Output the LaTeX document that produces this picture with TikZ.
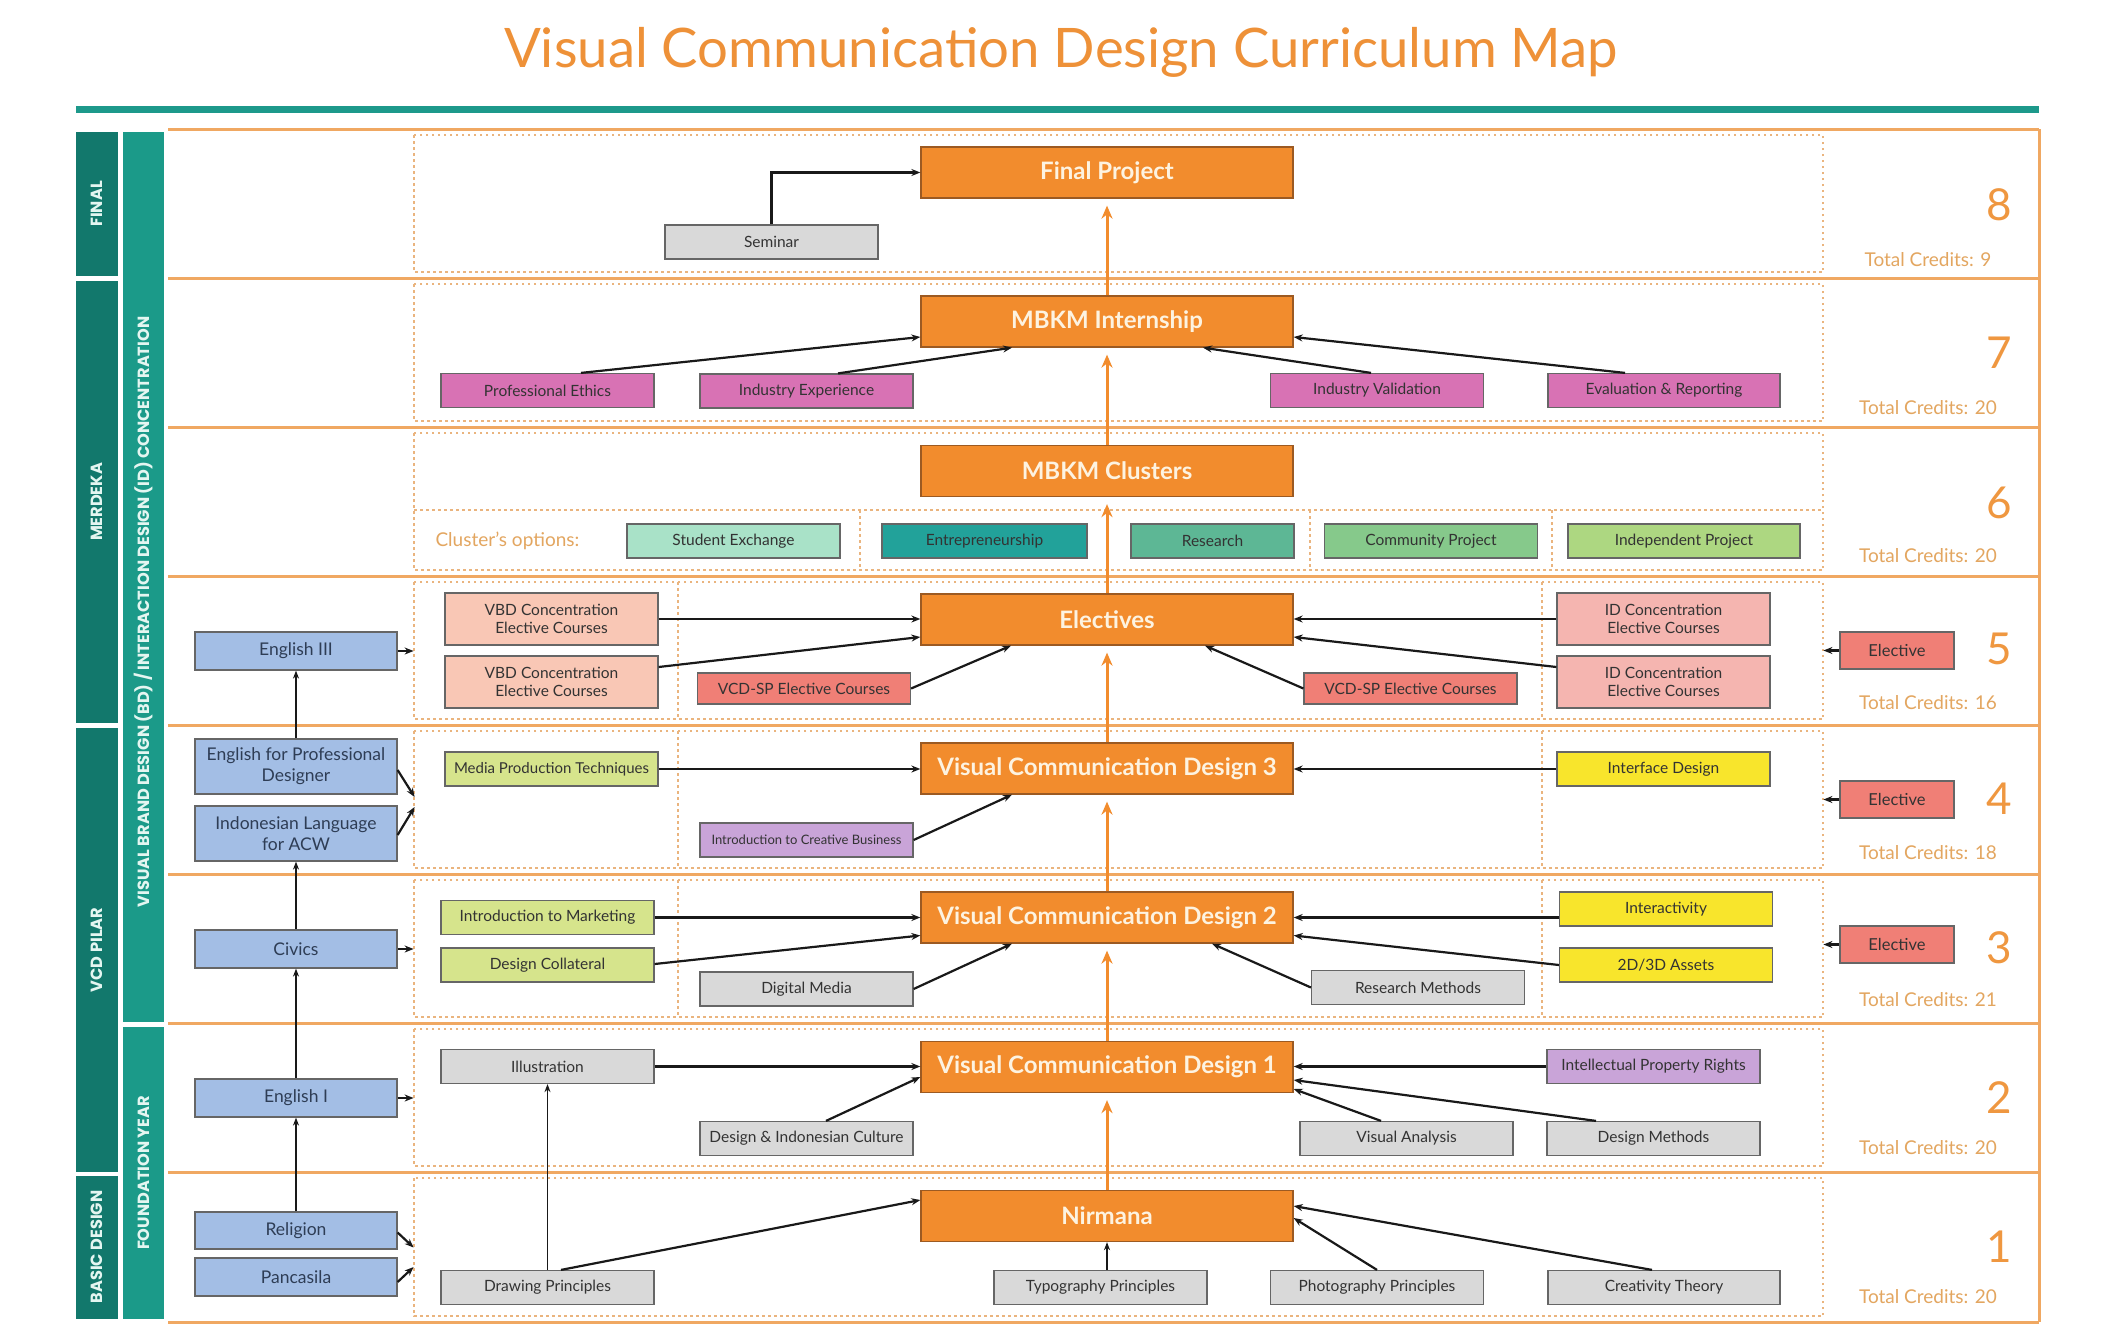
\documentclass[tikz,border=0pt]{standalone}
\usepackage{fontspec}
\setmainfont{Lato}
\newfontfamily\sidefont{Poppins}
\usetikzlibrary{arrows.meta,calc}
\newcommand\fsz[2]{\fontsize{#1}{#2}\selectfont}
\definecolor{orbox}{HTML}{F28C2D}
\definecolor{orborder}{HTML}{9C5A22}
\definecolor{orwhite}{HTML}{FDF3E1}
\definecolor{orline}{HTML}{F0A862}
\definecolor{ordot}{HTML}{EAB47E}
\definecolor{ortitle}{HTML}{EE9138}
\definecolor{ortxt}{HTML}{EF9740}
\definecolor{tctxt}{HTML}{E3A660}
\definecolor{tealbar}{HTML}{1D998B}
\definecolor{tealdark}{HTML}{12786C}
\definecolor{tealmid}{HTML}{1B9A89}
\definecolor{sidetext}{HTML}{E4F6F1}
\definecolor{gbox}{HTML}{D9D9D9}
\definecolor{bbox}{HTML}{A3BEE5}
\definecolor{bluetxt}{HTML}{2E3D55}
\definecolor{mbox}{HTML}{D872B4}
\definecolor{pbox}{HTML}{F9C7B5}
\definecolor{ibox}{HTML}{F5B5B0}
\definecolor{rbox}{HTML}{F07F76}
\definecolor{lgbox}{HTML}{D6E48C}
\definecolor{ybox}{HTML}{F8E52C}
\definecolor{lvbox}{HTML}{C9A4D8}
\definecolor{cla}{HTML}{A9E2C8}
\definecolor{clb}{HTML}{22A29A}
\definecolor{clc}{HTML}{5DB795}
\definecolor{cld}{HTML}{86C98B}
\definecolor{cle}{HTML}{ADD781}
\definecolor{boxtxt}{HTML}{333333}
\tikzset{
  sbox/.style={draw=black!60, line width=1.2pt, inner sep=2pt, align=center, text=boxtxt,
    font=\fsz{15.5}{18}, minimum width=213, minimum height=34},
  bluebox/.style={sbox, fill=bbox, minimum width=202, text=bluetxt, font=\fsz{17.5}{21}},
  elbox/.style={sbox, fill=rbox, minimum width=114, minimum height=37, font=\fsz{16.5}{19}},
  orgbox/.style={fill=orbox, draw=orborder, line width=1.3pt, minimum width=372, minimum height=51,
    font=\fsz{24}{27}\bfseries, text=orwhite, inner sep=0pt},
  arr/.style={draw=black!90, line width=2.2pt, -{Stealth[length=9pt,width=7pt]}},
  varr/.style={draw=black!90, line width=1.8pt, -{Stealth[length=8pt,width=6pt]}},
  oarr/.style={draw=orbox, line width=3pt, -{Stealth[length=13pt,width=11pt]}},
  solidl/.style={draw=orline, line width=3pt},
  dotl/.style={draw=ordot, line width=1.5pt, dash pattern=on 2.5pt off 3.5pt},
  sidetxt/.style={text=sidetext, font=\sidefont\bfseries\fsz{16.2}{18}, rotate=90},
  numst/.style={text=ortxt, font=\fsz{44}{48}},
  tcst/.style={text=tctxt, font=\fsz{19}{22}}
}
\begin{document}
\begin{tikzpicture}[x=1pt,y=-1pt]
\useasboundingbox (0,0) rectangle (2113,1333);
\fill[white] (0,0) rectangle (2113,1333);

% title
\node[font=\fsz{54.5}{60}, text=ortitle, anchor=base] (title) at (1061,67) {Visual Communication Design Curriculum Map};
\fill[tealbar] (76,106) rectangle (2039,113);

% sidebars
\fill[tealdark] (76,132) rectangle (118,276);
\fill[tealdark] (76,281) rectangle (118,723);
\fill[tealdark] (76,728) rectangle (118,1172);
\fill[tealdark] (76,1176) rectangle (118,1319);
\fill[tealmid] (123,132) rectangle (164,1022);
\fill[tealmid] (123,1027) rectangle (164,1319);
\node[sidetxt] (sfinal) at (97,204) {FINAL};
\node[sidetxt] (smerdeka) at (97,502) {MERDEKA};
\node[sidetxt] (spilar) at (97,950) {VCD PILAR};
\node[sidetxt] (sbasic) at (97,1247) {BASIC DESIGN};
\node[sidetxt] (sconc) at (143.5,612) {VISUAL BRAND DESIGN (BD) / INTERACTION DESIGN (ID) CONCENTRATION};
\node[sidetxt] (sfound) at (143.5,1173) {FOUNDATION YEAR};

% row frames
\foreach \t/\b in {129/278,278/427,427/576,576/725,725/874,874/1023,1023/1172,1172/1322}{
  \draw[dotl] (414,\t+6) rectangle (1823,\b-6);
}
\foreach \t in {129,278,427,576,725,874,1023,1172,1322}{
  \draw[solidl] (168,\t) -- (2039,\t);
}
\draw[solidl] (2039,129) -- (2039,1322);
\draw[dotl] (414,510) -- (1823,510);
\foreach \x in {860,1310,1552}{ \draw[dotl] (\x,510) -- (\x,570); }
\foreach \t in {576,725,874}{
  \draw[dotl] (678,\t+6) -- (678,\t+143);
  \draw[dotl] (1542,\t+6) -- (1542,\t+143);
}

% numbers and credits
\node[numst] (n8) at (1999,205) {8};
\node[numst] (n7) at (1999,353) {7};
\node[numst] (n6) at (1999,503) {6};
\node[numst] (n5) at (1999,649) {5};
\node[numst] (n4) at (1999,799) {4};
\node[numst] (n3) at (1999,948) {3};
\node[numst] (n2) at (1999,1098) {2};
\node[numst] (n1) at (1999,1247) {1};
\node[tcst] (t8) at (1928,260) {Total Credits: 9};
\node[tcst] (t7) at (1928,408) {Total Credits: 20};
\node[tcst] (t6) at (1928,556) {Total Credits: 20};
\node[tcst] (t5) at (1928,703) {Total Credits: 16};
\node[tcst] (t4) at (1928,853) {Total Credits: 18};
\node[tcst] (t3) at (1928,1000) {Total Credits: 21};
\node[tcst] (t2) at (1928,1148) {Total Credits: 20};
\node[tcst] (t1) at (1928,1297) {Total Credits: 20};

% Row 8
\node[orgbox] (final) at (1107,172.5) {Final Project};
\node[sbox, fill=gbox] (seminar) at (771.5,242) {Seminar};
% Row 7
\node[orgbox] (mbkm) at (1107,321.5) {MBKM Internship};
\node[sbox, fill=mbox] (pe) at (547.5,390.5) {Professional Ethics};
\node[sbox, fill=mbox] (ie) at (806.5,391) {Industry Experience};
\node[sbox, fill=mbox] (iv) at (1377,390.5) {Industry Validation};
\node[sbox, fill=mbox, minimum width=232] (er) at (1664,390.5) {Evaluation \& Reporting};
% Row 6
\node[orgbox] (clusters) at (1107,471) {MBKM Clusters};
\node[tcst, anchor=west] (copt) at (432,541) {Cluster's options:};
\node[sbox, fill=cla] (se) at (733.5,541) {Student Exchange};
\node[sbox, fill=clb, minimum width=205] (en) at (984.5,541) {Entrepreneurship};
\node[sbox, fill=clc, minimum width=163] (rs) at (1212.5,541) {Research};
\node[sbox, fill=cld] (cp) at (1431,541) {Community Project};
\node[sbox, fill=cle, minimum width=232] (ip) at (1684,541) {Independent Project};
% Row 5
\node[orgbox] (elect) at (1107,619.5) {Electives};
\node[bluebox, minimum height=38] (eng3) at (296,651) {English III};
\node[sbox, fill=pbox, minimum height=52] (vbd1) at (551.5,619) {VBD Concentration\\Elective Courses};
\node[sbox, fill=pbox, minimum height=52] (vbd2) at (551.5,682) {VBD Concentration\\Elective Courses};
\node[sbox, fill=rbox, minimum height=31] (spl) at (804,688.5) {VCD-SP Elective Courses};
\node[sbox, fill=ibox, minimum height=52] (id1) at (1663.5,619) {ID Concentration\\Elective Courses};
\node[sbox, fill=ibox, minimum height=52] (id2) at (1663.5,682) {ID Concentration\\Elective Courses};
\node[sbox, fill=rbox, minimum height=31] (spr) at (1410.5,688.5) {VCD-SP Elective Courses};
\node[elbox] (el5) at (1897,650.5) {Elective};
% Row 4
\node[orgbox] (vcd3) at (1107,768.5) {Visual Communication Design 3};
\node[bluebox, minimum height=55] (efpd) at (296,766.5) {English for Professional\\Designer};
\node[bluebox, minimum height=55] (indo) at (296,833.5) {Indonesian Language\\for ACW};
\node[sbox, fill=lgbox, font=\fsz{15}{18}] (mpt) at (551.5,769) {Media Production Techniques};
\node[sbox, fill=lvbox, font=\fsz{13}{15}] (icb) at (806.5,840) {Introduction to Creative Business};
\node[sbox, fill=ybox] (ifd) at (1663.5,769) {Interface Design};
\node[elbox] (el4) at (1897,799.5) {Elective};
% Row 3
\node[orgbox] (vcd2) at (1107,917.5) {Visual Communication Design 2};
\node[bluebox, minimum height=38] (civ) at (296,949) {Civics};
\node[sbox, fill=lgbox] (itm) at (547.5,917.5) {Introduction to Marketing};
\node[sbox, fill=lgbox] (dcol) at (547.5,965) {Design Collateral};
\node[sbox, fill=gbox] (dm) at (806.5,989) {Digital Media};
\node[sbox, fill=ybox] (inter) at (1666,909) {Interactivity};
\node[sbox, fill=ybox] (d23) at (1666,965) {2D/3D Assets};
\node[sbox, fill=gbox] (rm) at (1418,987.5) {Research Methods};
\node[elbox] (el3) at (1897,944.5) {Elective};
% Row 2
\node[orgbox] (vcd1) at (1107,1067) {Visual Communication Design 1};
\node[bluebox, minimum height=38] (eng1) at (296,1098) {English I};
\node[sbox, fill=gbox] (ill) at (547.5,1066.5) {Illustration};
\node[sbox, fill=gbox] (dic) at (806.5,1138.5) {Design \& Indonesian Culture};
\node[sbox, fill=lvbox] (ipr) at (1653.5,1066.5) {Intellectual Property Rights};
\node[sbox, fill=gbox] (va) at (1406.5,1138.5) {Visual Analysis};
\node[sbox, fill=gbox] (dme) at (1653.5,1138.5) {Design Methods};
% Row 1
\node[orgbox] (nir) at (1107,1216) {Nirmana};
\node[bluebox, minimum height=37] (rel) at (296,1230.5) {Religion};
\node[bluebox, minimum height=38] (pan) at (296,1277) {Pancasila};
\node[sbox, fill=gbox] (dp) at (547.5,1287.5) {Drawing Principles};
\node[sbox, fill=gbox] (tp) at (1100.5,1287.5) {Typography Principles};
\node[sbox, fill=gbox] (pp) at (1377,1287.5) {Photography Principles};
\node[sbox, fill=gbox, minimum width=232] (ct) at (1664,1287.5) {Creativity Theory};

% orange spine
\draw[oarr] (mbkm.north) -- ($(final.south)+(0,7)$);
\draw[oarr] (clusters.north) -- ($(mbkm.south)+(0,7)$);
\draw[oarr] (elect.north) -- ($(clusters.south)+(0,7)$);
\draw[oarr] (vcd3.north) -- ($(elect.south)+(0,7)$);
\draw[oarr] (vcd2.north) -- ($(vcd3.south)+(0,7)$);
\draw[oarr] (vcd1.north) -- ($(vcd2.south)+(0,7)$);
\draw[oarr] (nir.north) -- ($(vcd1.south)+(0,7)$);

% row 8
\draw[arr] (seminar.north) |- (final.west);
% row 7
\draw[arr] ($(pe.north)+(33.5,0)$) -- ($(mbkm.west)+(0,15.5)$);
\draw[arr] ($(ie.north)+(31.5,0)$) -- ($(mbkm.south)+(-95,0)$);
\draw[arr] ($(iv.north)+(-6,0)$) -- ($(mbkm.south)+(96,0)$);
\draw[arr] ($(er.north)+(-39,0)$) -- ($(mbkm.east)+(0,15.5)$);
% row 5
\draw[arr] (eng3.east) -- ++(16,0);
\draw[arr] (vbd1.east) -- (vbd1.east -| elect.west);
\draw[arr] ($(vbd2.east)+(0,-15)$) -- ($(elect.west)+(0,17.5)$);
\draw[arr] (spl.east) -- ($(elect.south)+(-96,0)$);
\draw[arr] (id1.west) -- (id1.west -| elect.east);
\draw[arr] ($(id2.west)+(0,-15)$) -- ($(elect.east)+(0,17.5)$);
\draw[arr] (spr.west) -- ($(elect.south)+(98,0)$);
\draw[arr] (el5.west) -- ++(-16,0);
\draw[varr] (efpd.north) -- (eng3.south);
% row 4
\draw[arr] ($(efpd.east)+(0,3.5)$) -- ++(17,27);
\draw[arr] ($(indo.east)+(0,1.5)$) -- ++(17,-28);
\draw[arr] (mpt.east) -- (mpt.east -| vcd3.west);
\draw[arr] (icb.east) -- ($(vcd3.south)+(-95,0)$);
\draw[arr] (ifd.west) -- (ifd.west -| vcd3.east);
\draw[arr] (el4.west) -- ++(-16,0);
\draw[varr] (civ.north) -- (indo.south);
% row 3
\draw[arr] (civ.east) -- ++(16,0);
\draw[arr] (itm.east) -- (itm.east -| vcd2.west);
\draw[arr] ($(dcol.east)+(0,-1)$) -- ($(vcd2.west)+(0,18)$);
\draw[arr] (dm.east) -- ($(vcd2.south)+(-95,0)$);
\draw[arr] (inter.west |- vcd2.east) -- (vcd2.east);
\draw[arr] (d23.west) -- ($(vcd2.east)+(0,18)$);
\draw[arr] (rm.west) -- ($(vcd2.south)+(105,0)$);
\draw[arr] (el3.west) -- ++(-16,0);
\draw[varr] (eng1.north) -- (civ.south);
% row 2
\draw[arr] (eng1.east) -- ++(16,0);
\draw[arr] (ill.east) -- (ill.east -| vcd1.west);
\draw[arr] ($(dic.north)+(19.5,0)$) -- ($(vcd1.west)+(0,10)$);
\draw[arr] (ipr.west) -- (ipr.west -| vcd1.east);
\draw[arr] ($(va.north)+(-25.5,0)$) -- ($(vcd1.east)+(0,22)$);
\draw[arr] ($(dme.north)+(-57.5,0)$) -- ($(vcd1.east)+(0,13)$);
\draw[varr] (rel.north) -- (eng1.south);
% row 1
\draw[arr] ($(rel.east)+(0,2)$) -- ++(16,15);
\draw[arr] ($(pan.east)+(0,5)$) -- ++(16,-15);
\draw[arr] ($(dp.north)+(13.5,0)$) -- ($(nir.west)+(0,-16)$);
\draw[varr] (dp.north) -- (ill.south);
\draw[varr] (tp.north -| nir.south) -- (nir.south);
\draw[arr] (pp.north) -- ($(nir.east)+(0,2)$);
\draw[arr] ($(ct.north)+(-12,0)$) -- ($(nir.east)+(0,-10)$);
\end{tikzpicture}
\end{document}
